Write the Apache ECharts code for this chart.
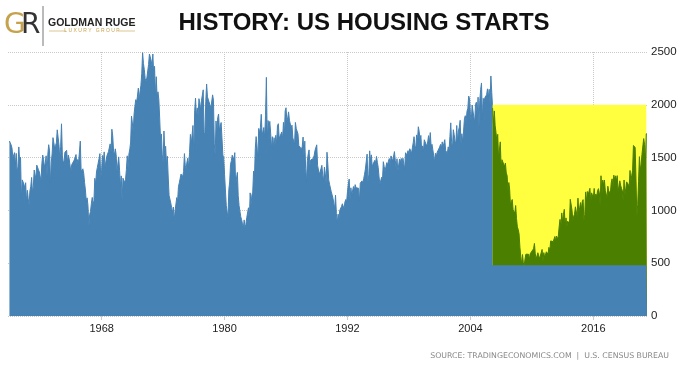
<!DOCTYPE html>
<html><head><meta charset="utf-8">
<script src="https://cdn.jsdelivr.net/npm/echarts@6/dist/echarts.min.js"></script>
<style>html,body{margin:0;padding:0;background:#fff}#c{width:684px;height:368px}</style>
</head><body><div id="c"></div>
<script>
// Monthly US housing starts (thousands, SAAR), Jan 1959 – Mar 2021
const startYear = 1959;
const starts1959_1969 = [
1657,1667,1620,1590,1498,1503,1547,1430,1540,1355,1416,1601,
1460,1503,1109,1289,1271,1247,1205,1262,1079,1190,1111,1052,
1183,1226,1312,1166,1228,1382,1335,1312,1429,1415,1385,1365,
1361,1278,1443,1524,1483,1404,1450,1517,1324,1533,1622,1564,
1244,1456,1534,1689,1641,1588,1614,1639,1763,1779,1622,1491,
1603,1820,1517,1448,1467,1550,1562,1569,1455,1524,1486,1484,
1361,1433,1423,1438,1478,1488,1529,1432,1482,1452,1460,1656,
1370,1378,1394,1352,1265,1194,1086,1119,1046,843,961,990,
1067,1123,1056,1091,1304,1248,1364,1407,1421,1491,1538,1308,
1380,1520,1466,1554,1408,1405,1512,1495,1556,1569,1630,1548,
1769,1705,1561,1524,1583,1528,1368,1358,1507,1381,1229,1327];
const starts1970s = [
1085,1305,1319,1264,1290,1385,1517,1399,1534,1580,1647,1893,
1828,1741,1910,1986,2049,2026,2083,2158,2041,2128,2182,2295,
2494,2390,2334,2249,2221,2254,2252,2382,2481,2485,2421,2366,
2481,2289,2365,2084,2266,2067,2123,2051,1874,1677,1724,1526,
1451,1752,1555,1607,1426,1513,1316,1142,1150,1070,1026,975,
1032,904,993,1005,1121,1087,1226,1260,1264,1344,1360,1321,
1367,1538,1421,1395,1459,1495,1401,1550,1720,1629,1641,1804,
1527,1943,2063,1892,1971,1893,2058,2020,1949,2042,2042,2142,
1718,1738,2032,2197,2075,2070,2092,1996,1970,1981,2094,2044,
1630,1520,1847,1748,1876,1913,1760,1778,1832,1681,1524,1498];
const starts1980s = [
1341,1350,1047,1051,927,1196,1269,1436,1471,1523,1510,1482,
1547,1246,1306,1360,1140,1045,1041,940,911,873,837,910,
843,866,931,917,1025,902,1166,1046,1144,1173,1372,1303,
1586,1699,1606,1472,1776,1733,1785,1910,1710,1715,1785,1688,
1897,2260,1663,1851,1774,1843,1732,1586,1698,1590,1689,1612,
1711,1632,1800,1821,1680,1676,1684,1743,1676,1834,1698,1942,
1972,1848,1876,1933,1854,1847,1782,1807,1687,1681,1623,1833,
1774,1784,1726,1614,1628,1594,1575,1605,1695,1515,1656,1400,
1271,1473,1532,1573,1421,1478,1467,1493,1492,1522,1569,1563,
1621,1425,1422,1339,1331,1397,1427,1332,1279,1410,1351,1251];
const starts1990s = [
1551,1437,1289,1248,1212,1177,1171,1115,1110,1014,1145,969,
880,965,921,1001,996,1036,1063,1049,1015,1079,1103,1079,
1176,1250,1297,1099,1214,1145,1139,1226,1186,1244,1214,1227,
1210,1210,1083,1258,1260,1280,1254,1300,1343,1392,1376,1533,
1272,1337,1564,1465,1526,1409,1439,1450,1474,1450,1511,1455,
1407,1316,1249,1267,1314,1281,1461,1416,1369,1369,1452,1431,
1467,1491,1424,1516,1504,1467,1472,1557,1475,1392,1489,1370,
1355,1486,1457,1492,1442,1494,1437,1390,1546,1520,1510,1566,
1525,1584,1567,1540,1536,1641,1698,1614,1582,1715,1660,1792,
1748,1670,1710,1553,1611,1559,1669,1648,1635,1608,1648,1708];
const starts2000s = [
1636,1737,1604,1626,1575,1559,1463,1541,1507,1549,1551,1532,
1600,1625,1590,1649,1605,1636,1670,1567,1562,1540,1602,1568,
1698,1829,1642,1592,1764,1717,1655,1633,1804,1648,1753,1788,
1853,1629,1726,1643,1751,1867,1897,1833,1939,1967,2083,2057,
1911,1846,1998,2003,1981,1828,2002,2024,1905,2072,1782,2042,
2144,2207,1864,2061,2025,2068,2054,2095,2151,2065,2147,1994,
2273,2119,1969,1821,1942,1802,1737,1650,1720,1491,1570,1649,
1409,1480,1495,1490,1415,1448,1354,1330,1183,1264,1197,1037,
1084,1103,1005,1013,973,1046,923,844,820,777,652,560,
490,582,505,478,540,585,594,586,585,534,588,581];
const starts2010s = [
614,604,636,687,588,539,546,599,594,543,545,539,
630,517,600,554,561,608,623,585,650,610,711,694,
723,704,695,753,708,757,728,754,847,915,833,976,
888,962,1010,854,929,843,898,889,872,1105,1088,1003,
902,945,964,1034,1036,943,1116,980,1024,1074,1008,1081,
1102,899,959,1175,1085,1179,1150,1145,1209,1071,1166,1148,
1114,1208,1113,1155,1128,1187,1206,1166,1043,1328,1142,1287,
1236,1288,1190,1156,1114,1229,1184,1185,1163,1261,1299,1209,
1334,1290,1327,1276,1329,1177,1184,1280,1237,1209,1187,1084,
1288,1145,1203,1270,1281,1246,1220,1378,1272,1332,1375,1615];
const starts2020s = [
1629,1595,1289,938,1056,1275,1509,1379,1436,1530,1547,1680,
1625,1447,1725];

const xTickLabels = [1968, 1980, 1992, 2004, 2016];
const highlightStart = 2006 + 2 / 12;   // Mar 2006
const highlightLow = 480;
const highlightHigh = 2000;
const xMin = 1958.86, xMax = 2021.24;

const starts = [].concat(starts1959_1969, starts1970s, starts1980s, starts1990s, starts2000s, starts2010s, starts2020s);
const mainData = starts.map((v, i) => [startYear + i / 12, v]);
const hl = mainData.filter(d => d[0] >= highlightStart - 1e-6);
const hlX = hl.map(d => d[0]).concat([xMax]);
const hlV = hl.map(d => d[1]).concat([hl[hl.length - 1][1]]);
const yellowData = hlX.map(x => [x, highlightHigh]);
const greenData = hlX.map((x, i) => [x, Math.min(hlV[i], highlightHigh)]);
const lowBlueData = [[highlightStart - 0.3, highlightLow]].concat(hlX.map(x => [x, highlightLow]));

const BLUE = '#4682B4', YELLOW = '#FFFF40', GREEN = '#4A7F00', GOLD = '#C7A24C';
const plain = v => String(v);
const areaSeries = (data, color, z, lw) => ({
  type: 'line', data, symbol: 'none', silent: true, z,
  lineStyle: {width: lw, color}, areaStyle: {color, opacity: 1, origin: 'start'}
});
const chart = echarts.init(document.getElementById('c'), null, {renderer: 'canvas'});
chart.setOption({
  animation: false,
  grid: {left: 8, right: 37, top: 52, bottom: 52, containLabel: false},
  xAxis: {
    type: 'value', min: xMin, max: xMax,
    axisLine: {show: false},
    axisTick: {show: true, customValues: xTickLabels, length: 4, lineStyle: {color: '#ccc'}},
    axisLabel: {customValues: xTickLabels, formatter: plain, color: '#222', fontSize: 11, fontFamily: 'Liberation Sans', margin: 7},
    splitLine: {show: true, lineStyle: {type: 'dotted', color: '#c8c8c8', width: 1}}
  },
  yAxis: {
    type: 'value', position: 'right', min: 0, max: 2500, interval: 500,
    axisLine: {show: false}, axisTick: {show: false},
    axisLabel: {formatter: plain, color: '#222', fontSize: 11.5, fontFamily: 'Liberation Sans', margin: 4},
    splitLine: {show: true, lineStyle: {type: 'dotted', color: '#c8c8c8', width: 1}}
  },
  series: [
    areaSeries(mainData, BLUE, 2, 1),
    areaSeries(yellowData, YELLOW, 3, 0),
    areaSeries(greenData, GREEN, 4, 1),
    areaSeries(lowBlueData, BLUE, 5, 0)
  ],
  graphic: [
    {type: 'text', x: 364, y: 23, style: {text: 'HISTORY: US HOUSING STARTS', font: 'bold 24px "Liberation Sans"', fill: '#111', align: 'center', verticalAlign: 'middle'}},
    {type: 'text', x: 4, y: 26, style: {text: 'G', font: '28px "DejaVu Sans"', fill: GOLD, align: 'left', verticalAlign: 'middle'}},
    {type: 'text', x: 21, y: 26, style: {text: 'R', font: '28px "DejaVu Sans"', fill: '#333', align: 'left', verticalAlign: 'middle'}},
    {type: 'line', shape: {x1: 43, y1: 6, x2: 43, y2: 46}, style: {stroke: '#777', lineWidth: 1}},
    {type: 'text', x: 48, y: 23, style: {text: 'GOLDMAN RUGE', font: 'bold 10.5px "Liberation Sans"', fill: '#222', align: 'left', verticalAlign: 'middle'}},
    {type: 'line', shape: {x1: 49, y1: 31, x2: 66, y2: 31}, style: {stroke: GOLD, lineWidth: 0.6}},
    {type: 'text', x: 92, y: 31, style: {text: 'L U X U R Y   G R O U P', font: '5px "Liberation Sans"', fill: GOLD, align: 'center', verticalAlign: 'middle'}},
    {type: 'line', shape: {x1: 118, y1: 31, x2: 135, y2: 31}, style: {stroke: GOLD, lineWidth: 0.6}},
    {type: 'text', x: 669, y: 356, style: {text: 'SOURCE: TRADINGECONOMICS.COM  |  U.S. CENSUS BUREAU', font: '7.8px "DejaVu Sans"', fill: '#888', align: 'right', verticalAlign: 'middle'}}
  ]
});
</script>
</body></html>
